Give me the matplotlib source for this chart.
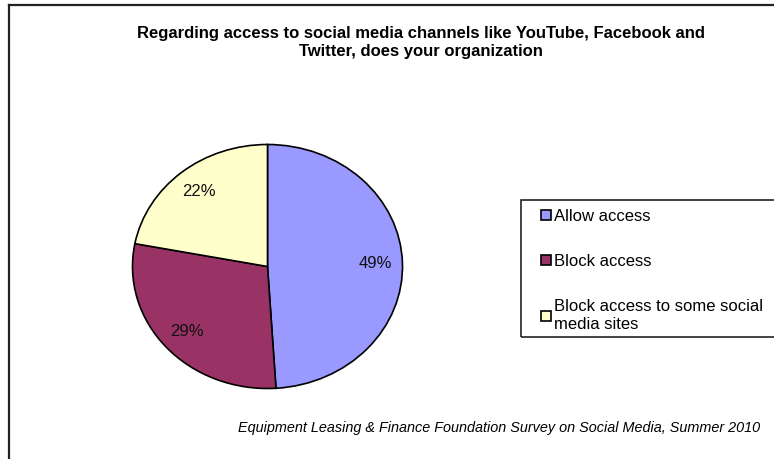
import matplotlib
matplotlib.use("Agg")
import matplotlib.pyplot as plt
from matplotlib.lines import Line2D
from matplotlib.patches import Rectangle

plt.rcParams['font.family'] = ['Liberation Sans', 'DejaVu Sans']

title = "Regarding access to social media channels like YouTube, Facebook and\nTwitter, does your organization"
categories = ["Allow access", "Block access", "Block access to some social\nmedia sites"]
values = [49, 29, 22]
colors = ["#9999FF", "#993366", "#FFFFCC"]
footnote = "Equipment Leasing & Finance Foundation Survey on Social Media, Summer 2010"

W, H = 774, 459
fig = plt.figure(figsize=(W / 100, H / 100), dpi=100)

# frame lines (top and left)
fig.add_artist(Line2D([9 / W, 1], [1 - 5 / H, 1 - 5 / H], color="#222222", lw=1.6))
fig.add_artist(Line2D([9 / W, 9 / W], [0, 1 - 5 / H], color="#222222", lw=1.6))

cx, cy, rx, ry = 267.5, 266.5, 135, 122
ax = fig.add_axes([(cx - rx) / W, (H - cy - ry) / H, 2 * rx / W, 2 * ry / H])
wedges, texts = ax.pie(values, colors=colors, startangle=90, counterclock=False,
                       labels=[f"{v}%" for v in values], labeldistance=0.8,
                       wedgeprops=dict(edgecolor="black", linewidth=1.2),
                       textprops=dict(fontsize=12, color="#111111"))
for t in texts:
    t.set_ha("center")
    t.set_va("center")
ax.set_xlim(-1, 1)
ax.set_ylim(-1, 1)
ax.set_aspect("auto")
for w in wedges:
    w.set_clip_on(False)

# title
fig.text(421 / W, 1 - 42.5 / H, title, ha="center", va="center", fontsize=12,
         fontweight="bold", linespacing=1.3)

# legend box
fig.add_artist(Rectangle((521 / W, 1 - 337 / H), (W + 5 - 521) / W, 137 / H,
                         transform=fig.transFigure, fill=False, edgecolor="#222222", lw=1.2))
leg = fig.legend(wedges, categories, loc="upper left",
                 bbox_to_anchor=(533 / W, 1 - 201 / H), frameon=False,
                 fontsize=12, handlelength=0.55, handleheight=0.55, handletextpad=0.2,
                 labelspacing=1.8, borderpad=0)

fig.text(760 / W, 1 - 428 / H, footnote, ha="right", va="center", fontsize=10.4,
         style="italic")

fig.savefig("out.png", dpi=100)
